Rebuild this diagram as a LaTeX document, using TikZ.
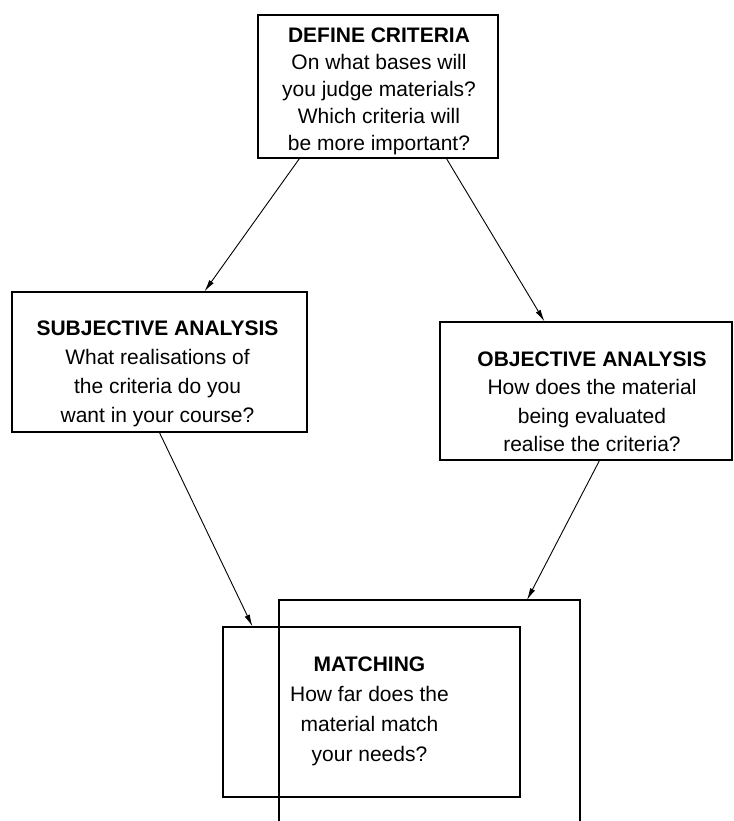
\documentclass[tikz,border=0pt]{standalone}
\usepackage{fontspec}
\setmainfont{Liberation Sans}
\usetikzlibrary{arrows.meta,calc}
\begin{document}
\begin{tikzpicture}[x=1pt,y=-1pt,
  box/.style={draw, line width=1.1pt, rectangle, inner sep=0pt},
  txt/.style={inner sep=0pt, align=center, font=\fontsize{21}{#1}\selectfont},
  txt/.default=29,
  arr/.style={line width=0.9pt, -{Latex[length=12pt,width=5.5pt]}},
  frame/.style={line width=1.1pt}]
\useasboundingbox (0,0) rectangle (733,821);
% boxes
\node[box, minimum width=240pt, minimum height=143pt] (def) at (378,86.5) {};
\node[box, minimum width=295pt, minimum height=140pt] (sub) at (159.5,362) {};
\node[box, minimum width=292pt, minimum height=138pt] (obj) at (586,391) {};
\node[box, minimum width=297pt, minimum height=170pt] (mat) at (371.5,712) {};
% texts
\node[txt=27] (deft) at ($(def)+(1,5)$)
  {\textbf{DEFINE CRITERIA}\\On what bases will\\you judge materials?\\Which criteria will\\be more important?};
\node[txt=29] (subt) at ($(sub)+(-2,12)$)
  {\textbf{SUBJECTIVE ANALYSIS}\\What realisations of\\the criteria do you\\want in your course?};
\node[txt=28.5] (objt) at ($(obj)+(6,11)$)
  {\textbf{OBJECTIVE ANALYSIS}\\How does the material\\being evaluated\\realise the criteria?};
\node[txt=30] (matt) at ($(mat)+(-2,-1)$)
  {\textbf{MATCHING}\\How far does the\\material match\\your needs?};
% open outer frame behind matching
\coordinate (ob1) at (279,821);
\coordinate (ob2) at (279,600);
\coordinate (ob3) at (580,600);
\coordinate (ob4) at (580,821);
\coordinate (obin) at (527,600);
\draw[frame] (ob1) -- (ob2) -- (ob3) -- (ob4);
% arrows
\draw[arr] ([xshift=42pt]def.south west) -- ([xshift=193pt]sub.north west);
\draw[arr] ([xshift=189pt]def.south west) -- ([xshift=105pt]obj.north west);
\draw[arr] ([xshift=148pt]sub.south west) -- ([xshift=30pt]mat.north west);
\draw[arr] ([xshift=160pt]obj.south west) -- (obin);
\end{tikzpicture}
\end{document}
